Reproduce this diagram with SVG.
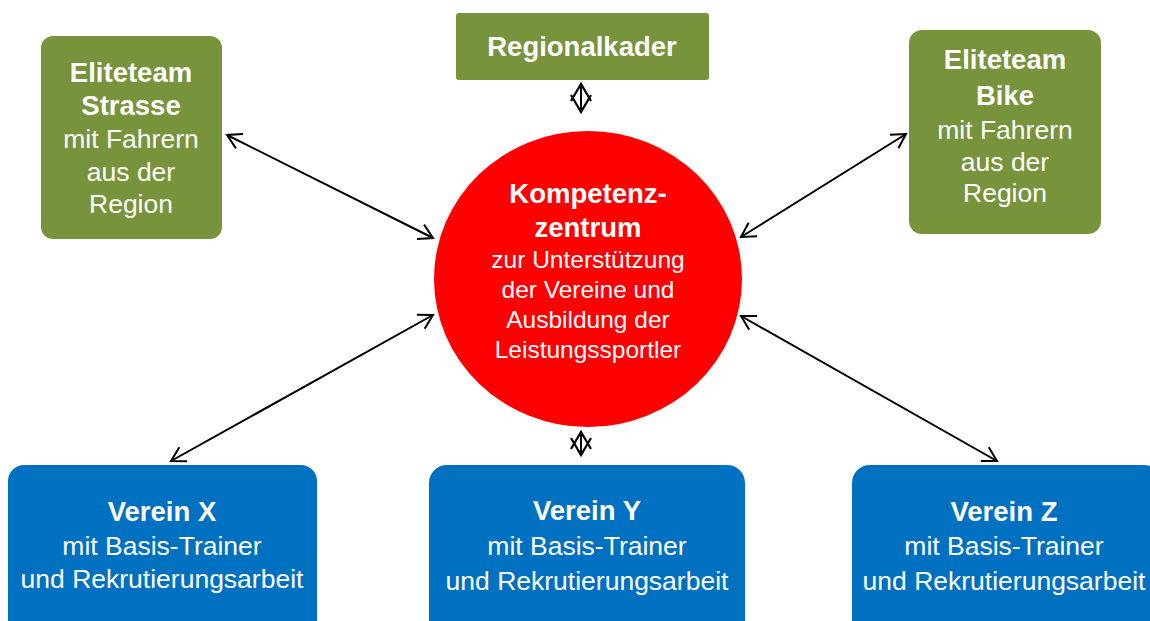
<svg xmlns="http://www.w3.org/2000/svg" width="1150" height="621" viewBox="0 0 1150 621">
<style>
.green{fill:#77933C}
.blue{fill:#0070C0}
.t{font-family:"Liberation Sans",Arial,sans-serif;fill:#fff;text-anchor:middle}
.b{font-weight:bold;font-size:27.5px}
.n{font-size:26.5px}
.cb{font-weight:bold;font-size:27.5px}
.cn{font-size:24.5px}
.conn{stroke:#000;stroke-width:2;fill:none;marker-start:url(#ah);marker-end:url(#ah)}
.short{marker-start:url(#ah2);marker-end:url(#ah2)}
</style>
<defs>
<marker id="ah" viewBox="0 0 18 20" refX="15" refY="10" markerWidth="18" markerHeight="20" markerUnits="userSpaceOnUse" orient="auto-start-reverse">
<path d="M1,2 L15,10 L1,18" stroke="#000" stroke-width="2" fill="none"/>
</marker>
<marker id="ah2" viewBox="0 0 22 24" refX="19" refY="12" markerWidth="22" markerHeight="24" markerUnits="userSpaceOnUse" orient="auto-start-reverse">
<path d="M2,2 L19,12 L2,22" stroke="#000" stroke-width="2.2" fill="none"/>
</marker>
</defs>
<rect width="1150" height="621" fill="#fff"/>
<g id="connectors">
<line class="conn" x1="227" y1="135" x2="433" y2="238"/>
<line class="conn" x1="741" y1="237" x2="906" y2="134"/>
<line class="conn" x1="433" y1="315" x2="171" y2="461"/>
<line class="conn" x1="741" y1="316" x2="997" y2="461"/>
<line class="conn short" x1="581" y1="84" x2="581" y2="112"/>
<line class="conn short" x1="581" y1="432" x2="581" y2="455"/>
</g>
<g id="regionalkader">
<rect class="green" x="456" y="13" width="253" height="67" rx="3"/>
<text class="t b" x="582" y="56">Regionalkader</text>
</g>
<g id="eliteteam-strasse">
<rect class="green" x="41" y="36" width="181" height="203" rx="12"/>
<text class="t b" x="131" y="82">Eliteteam</text>
<text class="t b" x="131" y="115">Strasse</text>
<text class="t n" x="131" y="148">mit Fahrern</text>
<text class="t n" x="131" y="181">aus der</text>
<text class="t n" x="131" y="213">Region</text>
</g>
<g id="eliteteam-bike">
<rect class="green" x="909" y="30" width="192" height="204" rx="13"/>
<text class="t b" x="1005" y="69">Eliteteam</text>
<text class="t b" x="1005" y="105">Bike</text>
<text class="t n" x="1005" y="139">mit Fahrern</text>
<text class="t n" x="1005" y="171">aus der</text>
<text class="t n" x="1005" y="202">Region</text>
</g>
<g id="kompetenzzentrum">
<ellipse cx="588" cy="279" rx="154" ry="148" fill="#FF0000"/>
<text class="t cb" x="588" y="203">Kompetenz-</text>
<text class="t cb" x="588" y="237">zentrum</text>
<text class="t cn" x="588" y="268">zur Unterstützung</text>
<text class="t cn" x="588" y="298">der Vereine und</text>
<text class="t cn" x="588" y="328">Ausbildung der</text>
<text class="t cn" x="588" y="358">Leistungssportler</text>
</g>
<g id="verein-x">
<rect class="blue" x="8" y="465" width="309" height="180" rx="16"/>
<text class="t b" x="162" y="521">Verein X</text>
<text class="t n" x="162" y="555">mit Basis-Trainer</text>
<text class="t n" x="162" y="588">und Rekrutierungsarbeit</text>
</g>
<g id="verein-y">
<rect class="blue" x="429" y="465" width="316" height="180" rx="18"/>
<text class="t b" x="587" y="520">Verein Y</text>
<text class="t n" x="587" y="555">mit Basis-Trainer</text>
<text class="t n" x="587" y="590">und Rekrutierungsarbeit</text>
</g>
<g id="verein-z">
<rect class="blue" x="852" y="465" width="310" height="180" rx="18"/>
<text class="t b" x="1004" y="521">Verein Z</text>
<text class="t n" x="1004" y="555">mit Basis-Trainer</text>
<text class="t n" x="1004" y="590">und Rekrutierungsarbeit</text>
</g>
</svg>
